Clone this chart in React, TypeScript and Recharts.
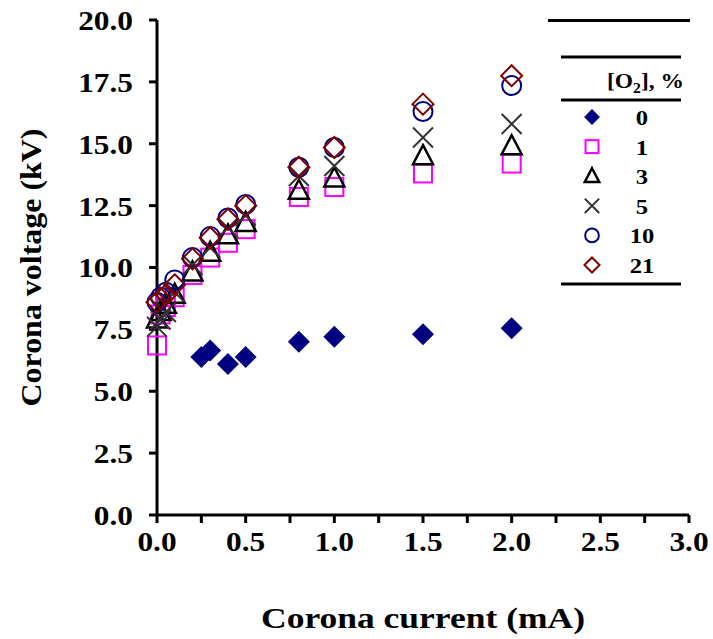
import React from "react";
import { ScatterChart, Scatter, XAxis, YAxis, Legend } from "recharts";

// O2 concentration series (corona current in mA, corona voltage in kV)
const currents = [0, 0.02, 0.05, 0.1, 0.2, 0.3, 0.4, 0.5, 0.8, 1.0, 1.5, 2.0];
const currentsO2_0 = [0.25, 0.3, 0.4, 0.5, 0.8, 1.0, 1.5, 2.0];
const voltageO2_0 = [6.38, 6.65, 6.1, 6.38, 7.0, 7.2, 7.3, 7.55];
const voltageO2_1 = [6.85, 8.1, 8.4, 8.8, 9.7, 10.4, 11.0, 11.55, 12.85, 13.25, 13.8, 14.2];
const voltageO2_3 = [7.9, 8.2, 8.5, 8.9, 9.8, 10.6, 11.3, 11.8, 13.1, 13.6, 14.5, 14.9];
const voltageO2_5 = [7.6, 7.9, 8.2, 9.0, 10.1, 10.8, 11.6, 12.1, 13.7, 14.1, 15.25, 15.8];
const voltageO2_10 = [8.6, 8.8, 9.0, 9.5, 10.4, 11.25, 12.0, 12.55, 14.05, 14.85, 16.3, 17.35];
const voltageO2_21 = [8.6, 8.75, 8.9, 9.3, 10.35, 11.2, 11.95, 12.5, 14.05, 14.85, 16.6, 17.75];

const xTicks = [0, 0.25, 0.5, 0.75, 1, 1.25, 1.5, 1.75, 2, 2.25, 2.5, 2.75, 3];
const yTicks = [0, 2.5, 5, 7.5, 10, 12.5, 15, 17.5, 20];

const toPoints = (xs, ys) => ys.map((v, i) => ({ x: xs[i], y: v }));

const series = [
  { name: "0", kind: "filledDiamond", data: toPoints(currentsO2_0, voltageO2_0) },
  { name: "1", kind: "square", data: toPoints(currents, voltageO2_1) },
  { name: "3", kind: "triangle", data: toPoints(currents, voltageO2_3) },
  { name: "5", kind: "cross", data: toPoints(currents, voltageO2_5) },
  { name: "10", kind: "circle", data: toPoints(currents, voltageO2_10) },
  { name: "21", kind: "diamond", data: toPoints(currents, voltageO2_21) },
];

const FONT = "'Liberation Serif', 'Times New Roman', serif";
const STRETCH = 1.12; // the reference type is a little wider than Liberation Serif

const Marker = ({ kind, cx, cy, s = 1 }) => {
  if (cx == null || cy == null) return null;
  switch (kind) {
    case "filledDiamond": {
      const h = 11 * s;
      return <path d={`M${cx},${cy - h}L${cx + h},${cy}L${cx},${cy + h}L${cx - h},${cy}Z`} fill="#000080" />;
    }
    case "square": {
      const h = 9 * s;
      return <rect x={cx - h} y={cy - h} width={2 * h} height={2 * h} fill="none" stroke="#FF00FF" strokeWidth={2} />;
    }
    case "triangle": {
      const w = 10 * s;
      return (
        <path
          d={`M${cx},${cy - 11 * s}L${cx + w},${cy + 8 * s}L${cx - w},${cy + 8 * s}Z`}
          fill="none"
          stroke="#000"
          strokeWidth={2.5}
        />
      );
    }
    case "cross": {
      const h = 10 * s;
      return (
        <path
          d={`M${cx - h},${cy - h}L${cx + h},${cy + h}M${cx + h},${cy - h}L${cx - h},${cy + h}`}
          stroke="#333"
          strokeWidth={2}
        />
      );
    }
    case "circle":
      return <circle cx={cx} cy={cy} r={9.5 * s} fill="none" stroke="#000080" strokeWidth={2} />;
    case "diamond": {
      const h = 10.5 * s;
      return (
        <path
          d={`M${cx},${cy - h}L${cx + h},${cy}L${cx},${cy + h}L${cx - h},${cy}Z`}
          fill="none"
          stroke="#800000"
          strokeWidth={2}
        />
      );
    }
    default:
      return null;
  }
};

const renderLegend = () => (
  <svg width={142} height={268} style={{ display: "block" }}>
    <line x1={0} y1={1.5} x2={142} y2={1.5} stroke="#000" strokeWidth={3} />
    <line x1={13} y1={38} x2={133} y2={38} stroke="#000" strokeWidth={3} />
    <g transform={`translate(136, 69) scale(${STRETCH}, 1)`}>
      <text x={0} y={0} textAnchor="end" fontFamily={FONT} fontWeight="bold" fontSize={21}>
        [O<tspan fontSize={14} dy={5}>2</tspan>
        <tspan dy={-5}>], %</tspan>
      </text>
    </g>
    <line x1={13} y1={81} x2={133} y2={81} stroke="#000" strokeWidth={3} />
    {series.map((s, i) => {
      const cy = 98 + i * 29.6;
      return (
        <g key={s.name}>
          <Marker kind={s.kind} cx={44} cy={cy} s={0.72} />
          <g transform={`translate(94, ${cy + 8}) scale(${STRETCH}, 1)`}>
            <text x={0} y={0} textAnchor="middle" fontFamily={FONT} fontWeight="bold" fontSize={22}>
              {s.name}
            </text>
          </g>
        </g>
      );
    })}
    <line x1={13} y1={265} x2={133} y2={265} stroke="#000" strokeWidth={3} />
  </svg>
);

const XTick = ({ x, y, payload }) => {
  const v = payload.value;
  if (Math.abs(v * 2 - Math.round(v * 2)) > 1e-6) return null;
  return (
    <g transform={`translate(${x}, ${y}) scale(${STRETCH}, 1)`}>
      <text x={0} y={0} dy="0.71em" textAnchor="middle" fontFamily={FONT} fontWeight="bold" fontSize={28} fill="#000">
        {v.toFixed(1)}
      </text>
    </g>
  );
};

const YTick = ({ x, y, payload }) => (
  <g transform={`translate(${x}, ${y}) scale(${STRETCH}, 1)`}>
    <text x={0} y={0} dy="0.355em" textAnchor="end" fontFamily={FONT} fontWeight="bold" fontSize={28} fill="#000">
      {payload.value.toFixed(1)}
    </text>
  </g>
);

const XLabel = (props) => {
  const vb = props.viewBox || {};
  const x = (vb.x || 0) + (vb.width || 0) / 2;
  const y = (vb.y || 0) + (vb.height || 0) - 11;
  return (
    <text
      x={x}
      y={y}
      textAnchor="middle"
      textLength={324}
      lengthAdjust="spacingAndGlyphs"
      fontFamily={FONT}
      fontWeight="bold"
      fontSize={29}
      fill="#000"
    >
      Corona current (mA)
    </text>
  );
};

const YLabel = (props) => {
  const vb = props.viewBox || {};
  const x = 31;
  const y = (vb.y || 0) + (vb.height || 0) / 2;
  return (
    <text
      x={x}
      y={y}
      transform={`rotate(-90, ${x}, ${y})`}
      textAnchor="middle"
      dominantBaseline="central"
      textLength={278}
      lengthAdjust="spacingAndGlyphs"
      fontFamily={FONT}
      fontWeight="bold"
      fontSize={29}
      fill="#000"
    >
      Corona voltage (kV)
    </text>
  );
};

export default function App() {
  return (
    <div style={{ position: "absolute", left: 0, top: 0, background: "#fff" }}>
      <ScatterChart width={713} height={639} margin={{ top: 20, right: 24, bottom: 0, left: 0 }}>
        <XAxis
          type="number"
          dataKey="x"
          domain={[0, 3]}
          ticks={xTicks}
          interval={0}
          height={124}
          tick={<XTick />}
          tickSize={8}
          tickMargin={8}
          axisLine={{ stroke: "#000", strokeWidth: 3 }}
          tickLine={{ stroke: "#000", strokeWidth: 3 }}
          label={<XLabel />}
        />
        <YAxis
          type="number"
          dataKey="y"
          domain={[0, 20]}
          ticks={yTicks}
          interval={0}
          width={157}
          tick={<YTick />}
          tickSize={8}
          tickMargin={16}
          axisLine={{ stroke: "#000", strokeWidth: 3 }}
          tickLine={{ stroke: "#000", strokeWidth: 3 }}
          label={<YLabel />}
        />
        <YAxis
          yAxisId="right"
          orientation="right"
          type="number"
          domain={[0, 20]}
          width={0}
          tick={false}
          tickLine={false}
          axisLine={{ stroke: "#000", strokeWidth: 3 }}
        />
        <Legend
          layout="horizontal"
          verticalAlign="middle"
          align="center"
          content={renderLegend}
          wrapperStyle={{ position: "absolute", left: 548, top: 19, width: 142, height: 268 }}
        />
        {series.map((s) => (
          <Scatter
            key={s.name}
            name={s.name}
            data={s.data}
            isAnimationActive={false}
            shape={(p) => <Marker kind={s.kind} cx={p.cx} cy={p.cy} />}
          />
        ))}
      </ScatterChart>
    </div>
  );
}
